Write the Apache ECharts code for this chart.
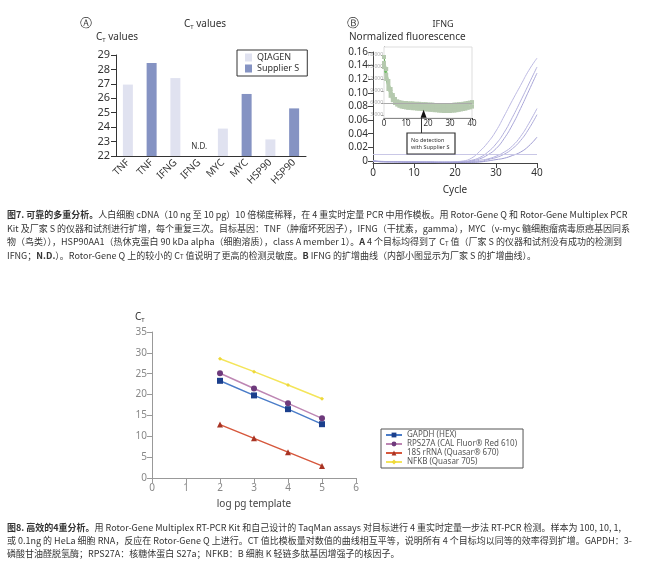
<!DOCTYPE html>
<html>
<head>
<meta charset="utf-8">
<script src="https://cdn.jsdelivr.net/npm/echarts@6/dist/echarts.min.js"></script>
<style>
html, body { margin: 0; padding: 0; background: #fff; }
#main { width: 650px; height: 576px; }
</style>
</head>
<body>
<div id="main"></div>
<script>
// ---- Fig 7A: Ct values ----
var genes = ['TNF', 'TNF', 'IFNG', 'IFNG', 'MYC', 'MYC', 'HSP90', 'HSP90'];
var qiagenCt = [26.95, '-', 27.4, '-', 23.9, '-', 23.15, '-'];
var supplierCt = ['-', 28.44, '-', '-', '-', 26.3, '-', 25.3];
var notDetectedIndex = 3;

// ---- Fig 7B: IFNG amplification ----
var cycles = [0, 2, 4, 6, 8, 10, 12, 14, 16, 18, 20, 22, 24, 26, 28, 30, 32, 34, 36, 38, 40];
var curve1 = [0.000, -0.001, -0.001, -0.001, -0.001, -0.001, -0.001, -0.001, -0.0015, -0.0015, -0.001, 0.000, 0.004, 0.014, 0.027, 0.044, 0.066, 0.089, 0.111, 0.133, 0.151];
var curve2 = [0.000, -0.001, -0.001, -0.001, -0.001, -0.0015, -0.0015, -0.0015, -0.002, -0.002, -0.0015, -0.001, 0.001, 0.005, 0.013, 0.025, 0.042, 0.064, 0.088, 0.113, 0.138];
var curve3 = [0.000, -0.001, -0.001, -0.001, -0.0015, -0.0015, -0.0015, -0.002, -0.002, -0.002, -0.002, -0.0015, 0.000, 0.003, 0.009, 0.018, 0.033, 0.053, 0.077, 0.103, 0.129];
var curve4 = [0.000, -0.0005, -0.001, -0.001, -0.001, -0.001, -0.001, -0.0015, -0.0015, -0.0015, -0.0015, -0.001, -0.001, 0.001, 0.003, 0.007, 0.013, 0.022, 0.036, 0.055, 0.077];
var curve5 = [0.000, -0.001, -0.001, -0.0015, -0.0015, -0.0015, -0.002, -0.002, -0.002, -0.002, -0.002, -0.002, -0.0015, -0.001, 0.002, 0.005, 0.010, 0.018, 0.030, 0.047, 0.068];
var curve6 = [0.000, -0.001, -0.0015, -0.0015, -0.002, -0.002, -0.002, -0.002, -0.0025, -0.0025, -0.0025, -0.002, -0.002, -0.0015, 0.000, 0.002, 0.004, 0.008, 0.013, 0.022, 0.035];
var threshold = 0.006;

// inset: supplier S raw curves
var insetCycles = [0, 1, 2, 3, 4, 5, 6, 7, 8, 9, 10, 11, 12, 13, 14, 15, 16, 17, 18, 19, 20, 21, 22, 23, 24, 25, 26, 27, 28, 29, 30, 31, 32, 33, 34, 35, 36, 37, 38, 39, 40];
var insetA = [17500, 14500, 11500, 9500, 8000, 7000, 6300, 5900, 5700, 5600, 5500, 5500, 5400, 5400, 5300, 5300, 5200, 5200, 5100, 5100, 5000, 5000, 4900, 4900, 4800, 4700, 4700, 4600, 4600, 4600, 4700, 4700, 4800, 4900, 5000, 5100, 5300, 5500, 5700, 5900, 6100];
var insetB = [16000, 13000, 10500, 8800, 7500, 6800, 6400, 6200, 6100, 6000, 6000, 5900, 5900, 5900, 5800, 5800, 5800, 5700, 5700, 5700, 5600, 5600, 5600, 5500, 5500, 5500, 5400, 5400, 5400, 5500, 5500, 5500, 5600, 5600, 5700, 5700, 5800, 5900, 6000, 6100, 6200];
var insetC = [15000, 12000, 9500, 7800, 6700, 6000, 5600, 5300, 5100, 5000, 4900, 4800, 4800, 4700, 4700, 4600, 4600, 4500, 4500, 4400, 4400, 4300, 4300, 4200, 4200, 4100, 4100, 4000, 4000, 4000, 4000, 4100, 4100, 4200, 4300, 4400, 4500, 4600, 4800, 4900, 5100];
var insetThreshold = 5900;
var arrowPoint = [18, 3300];

// ---- Fig 8: standard curves ----
var logTemplate = [2, 3, 4, 5];
var gapdh = [23.3, 19.8, 16.5, 12.9];
var rps27a = [25.1, 21.45, 17.9, 14.3];
var rrna18s = [12.8, 9.5, 6.2, 2.9];
var nfkb = [28.6, 25.5, 22.3, 19.0];
var fig8Names = ['GAPDH (HEX)', 'RPS27A (CAL Fluor® Red 610)', '18S rRNA (Quasar® 670)', 'NFKB (Quasar 705)'];

function pairs(xs, ys) {
  var out = [];
  for (var i = 0; i < xs.length; i++) out.push([xs[i], ys[i]]);
  return out;
}

var myChart = echarts.init(document.getElementById('main'));
var dark = '#333';
var subRich = {
  c: { fontSize: 10, lineHeight: 13, color: dark, fontFamily: 'Noto Sans' },
  t: { fontSize: 6, lineHeight: 6, verticalAlign: 'bottom', color: dark, fontFamily: 'Noto Sans' }
};
var capRich = {
  b: { fontWeight: 'bold', fontSize: 9, fontFamily: 'Noto Sans CJK SC' },
  s: { fontSize: 6, lineHeight: 6, verticalAlign: 'bottom', fontFamily: 'Noto Sans CJK SC' },
  n: { fontSize: 9, fontFamily: 'Noto Sans CJK SC' }
};

function cap(y, text) {
  return {
    type: 'text', x: 7, y: y,
    style: { text: text, rich: capRich, fontSize: 9, fontFamily: 'Noto Sans CJK SC', fill: '#333', verticalAlign: 'middle' }
  };
}
function label(x, y, text, size, align, rich) {
  return {
    type: 'text', x: x, y: y,
    style: { text: text, rich: rich, fontSize: size, fontFamily: 'Noto Sans', fill: dark,
      align: align || 'left', textAlign: align || 'left', verticalAlign: 'middle', textVerticalAlign: 'middle' }
  };
}

var curveColors = ['#bcb9e2', '#b3b0dd', '#a9a6d8', '#b7b4e0', '#aeabda', '#9f9cd2'];
var curves = [curve1, curve2, curve3, curve4, curve5, curve6];
var curveSeries = curves.map(function (c, i) {
  return {
    type: 'line', xAxisIndex: 1, yAxisIndex: 1, data: pairs(cycles, c),
    smooth: true, symbol: 'none', lineStyle: { color: curveColors[i], width: 1 },
    silent: true,
    markLine: i === 0 ? {
      silent: true, symbol: 'none', label: { show: false },
      lineStyle: { color: '#c9c7e6', width: 1, type: 'solid' },
      data: [{ yAxis: threshold }]
    } : undefined
  };
});

var insetColors = ['#5fb552', '#7cc56c', '#4ea544'];
var insetSeries = [insetA, insetB, insetC].map(function (c, i) {
  return {
    type: 'line', xAxisIndex: 2, yAxisIndex: 2, data: pairs(insetCycles, c),
    symbol: 'emptyRect', symbolSize: 2, showSymbol: true,
    lineStyle: { color: insetColors[i], width: 1 },
    itemStyle: { color: '#b5c9ae', borderWidth: 0.5 },
    silent: true,
    markLine: i === 0 ? {
      silent: true, symbol: 'none', label: { show: false },
      lineStyle: { color: '#aaa', width: 1, type: 'solid' },
      data: [{ yAxis: insetThreshold }]
    } : undefined,
    markPoint: i === 0 ? {
      symbol: 'triangle', symbolSize: [6, 8], itemStyle: { color: '#111' },
      label: { show: false }, data: [{ coord: arrowPoint }]
    } : undefined
  };
});

var fig8Colors = [
  { line: '#4a7cc8', mark: '#1b3f8c', symbol: 'rect' },
  { line: '#bd86b3', mark: '#6e3a7c', symbol: 'circle' },
  { line: '#d6573c', mark: '#a83424', symbol: 'triangle' },
  { line: '#f4e55a', mark: '#eed83a', symbol: 'diamond' }
];
var fig8Series = [gapdh, rps27a, rrna18s, nfkb].map(function (v, i) {
  return {
    name: fig8Names[i], type: 'line', xAxisIndex: 3, yAxisIndex: 3,
    data: pairs(logTemplate, v), symbol: fig8Colors[i].symbol, symbolSize: i === 3 ? 4 : 6,
    lineStyle: { color: fig8Colors[i].line, width: 1.5 },
    itemStyle: { color: fig8Colors[i].mark }
  };
});

var option = {
  animation: false,
  textStyle: { fontFamily: 'Noto Sans', color: dark },
  grid: [
    { left: 116, top: 55, width: 190, height: 101 },
    { left: 373, top: 52, width: 164, height: 111 },
    { left: 384, top: 47, width: 88, height: 71, show: true, backgroundColor: '#fff', borderColor: '#ddd', borderWidth: 1, z: 3 },
    { left: 152, top: 332, width: 204, height: 146 }
  ],
  legend: [
    {
      data: ['QIAGEN', 'Supplier S'], orient: 'vertical', left: 237, top: 50,
      padding: [3, 8, 3, 8], itemGap: 2, itemWidth: 7, itemHeight: 8,
      borderColor: '#333', borderWidth: 1, icon: 'rect',
      textStyle: { fontSize: 9, color: dark }
    },
    {
      data: fig8Names, orient: 'vertical', left: 381, top: 429,
      padding: [2, 6, 2, 4], itemGap: 1, itemWidth: 16, itemHeight: 6,
      borderColor: '#555', borderWidth: 1,
      textStyle: { fontSize: 8, color: '#555', lineHeight: 8 }
    }
  ],
  xAxis: [
    {
      gridIndex: 0, type: 'category', data: genes,
      axisLine: { lineStyle: { color: dark } },
      axisTick: { lineStyle: { color: dark } },
      axisLabel: { rotate: 45, fontSize: 10, color: dark, margin: 5, interval: 0 }
    },
    {
      gridIndex: 1, type: 'value', min: 0, max: 40, interval: 10,
      name: 'Cycle', nameLocation: 'middle', nameGap: 22, nameTextStyle: { fontSize: 10, color: dark },
      axisLine: { onZero: false, lineStyle: { color: '#444' } },
      axisTick: { lineStyle: { color: '#444' } },
      splitLine: { show: false },
      axisLabel: { fontSize: 10, color: dark, margin: 5 }
    },
    {
      gridIndex: 2, type: 'value', min: 0, max: 40, interval: 10,
      axisLine: { onZero: false, lineStyle: { color: '#333' } },
      axisTick: { length: 2, lineStyle: { color: '#333' } },
      splitLine: { show: false },
      axisLabel: { fontSize: 8, color: dark, margin: 2 }
    },
    {
      gridIndex: 3, type: 'value', min: 0, max: 6, interval: 1,
      name: 'log pg template', nameLocation: 'middle', nameGap: 21, nameTextStyle: { fontSize: 10, color: '#444' },
      axisLine: { onZero: false, lineStyle: { color: '#999' } },
      axisTick: { lineStyle: { color: '#999' } },
      splitLine: { show: false },
      axisLabel: { fontSize: 10, color: '#888', margin: 5 }
    }
  ],
  yAxis: [
    {
      gridIndex: 0, type: 'value', min: 22, max: 29, interval: 1,
      axisLine: { show: true, lineStyle: { color: dark } },
      axisTick: { show: true, lineStyle: { color: dark } },
      splitLine: { show: false },
      axisLabel: { fontSize: 11, color: dark, margin: 6 }
    },
    {
      gridIndex: 1, type: 'value', min: -0.003, max: 0.16, splitNumber: 8,
      axisLine: { show: true, lineStyle: { color: '#444' } },
      axisTick: { show: true, lineStyle: { color: '#444' } },
      splitLine: { show: false },
      axisLabel: {
        fontSize: 10, color: dark, margin: 5, showMinLabel: false,
        formatter: function (v) { return v === 0 ? '0' : v.toFixed(2); }
      }
    },
    {
      gridIndex: 2, type: 'value', min: 2250, max: 20000,
      axisLine: { show: true, lineStyle: { color: '#333' } },
      axisTick: { show: true, length: 3, lineStyle: { color: '#999' } },
      splitLine: { show: false },
      axisLabel: { fontSize: 5, color: '#aaa', margin: 1, showMinLabel: false, showMaxLabel: false }
    },
    {
      gridIndex: 3, type: 'value', min: 0, max: 35, interval: 5,
      axisLine: { show: true, lineStyle: { color: '#999' } },
      axisTick: { show: true, lineStyle: { color: '#999' } },
      splitLine: { show: false },
      axisLabel: { fontSize: 10, color: '#888', margin: 5 }
    }
  ],
  series: [
    {
      name: 'QIAGEN', type: 'bar', xAxisIndex: 0, yAxisIndex: 0, data: qiagenCt,
      barWidth: 10, barGap: '-100%', itemStyle: { color: '#e0e2f0' }
    },
    {
      name: 'Supplier S', type: 'bar', xAxisIndex: 0, yAxisIndex: 0, data: supplierCt,
      barWidth: 10, barGap: '-100%', itemStyle: { color: '#8593c3' },
      markPoint: {
        symbol: 'circle', symbolSize: 1, itemStyle: { color: 'rgba(0,0,0,0)' },
        label: { show: true, formatter: 'N.D.', position: 'top', distance: 5, fontSize: 8, color: dark },
        data: [{ coord: [notDetectedIndex, 22] }]
      }
    }
  ].concat(curveSeries, insetSeries, fig8Series),
  graphic: [
    label(86, 24, 'Ⓐ', 12, 'center'),
    label(205, 24, '{c|C}{t|T}{c| values}', 10, 'center', subRich),
    label(96, 37, '{c|C}{t|T}{c| values}', 10, 'left', subRich),
    label(353, 24, 'Ⓑ', 12, 'center'),
    label(443, 24, 'IFNG', 9, 'center'),
    label(349, 37, 'Normalized fluorescence', 10, 'left'),
    label(135, 317, '{c|C}{t|T}', 10, 'left', subRich),
    { type: 'line', z: 10, shape: { x1: 421.5, y1: 117, x2: 421.5, y2: 133 }, style: { stroke: '#333', lineWidth: 1 } },
    { type: 'rect', z: 10, shape: { x: 407, y: 133, width: 48, height: 21 }, style: { fill: '#fff', stroke: '#333', lineWidth: 1.2 } },
    {
      type: 'text', z: 11, x: 411, y: 143.5,
      style: { text: 'No detection\nwith Supplier S', fontSize: 5.5, lineHeight: 7, fontFamily: 'Noto Sans', fill: '#333', verticalAlign: 'middle' }
    },
    cap(215, '{b|图7. 可靠的多重分析。}人白细胞 cDNA（10 ng 至 10 pg）10 倍梯度稀释，在 4 重实时定量 PCR 中用作模板。用 Rotor-Gene Q 和 Rotor-Gene Multiplex PCR'),
    cap(228.5, 'Kit 及厂家 S 的仪器和试剂进行扩增，每个重复三次。目标基因：TNF（肿瘤坏死因子），IFNG（干扰素，gamma），MYC（v-myc 髓细胞瘤病毒原癌基因同系'),
    cap(242, '物（鸟类）），HSP90AA1（热休克蛋白 90 kDa alpha（细胞溶质），class A member 1）。{b|A} 4 个目标均得到了 C{s|T} 值（厂家 S 的仪器和试剂没有成功的检测到'),
    cap(255.5, 'IFNG；{b|N.D.}）。Rotor-Gene Q 上的较小的 C{s|T} 值说明了更高的检测灵敏度。{b|B} IFNG 的扩增曲线（内部小图显示为厂家 S 的扩增曲线）。'),
    cap(528, '{b|图8. 高效的4重分析。}用 Rotor-Gene Multiplex RT-PCR Kit 和自己设计的 TaqMan assays 对目标进行 4 重实时定量一步法 RT-PCR 检测。样本为 100, 10, 1,'),
    cap(541, '或 0.1ng 的 HeLa 细胞 RNA，反应在 Rotor-Gene Q 上进行。CT 值比模板量对数值的曲线相互平等，说明所有 4 个目标均以同等的效率得到扩增。GAPDH：3-'),
    cap(554, '磷酸甘油醛脱氢酶；RPS27A：核糖体蛋白 S27a；NFKB：B 细胞 K 轻链多肽基因增强子的核因子。')
  ]
};

myChart.setOption(option);
</script>
</body>
</html>
